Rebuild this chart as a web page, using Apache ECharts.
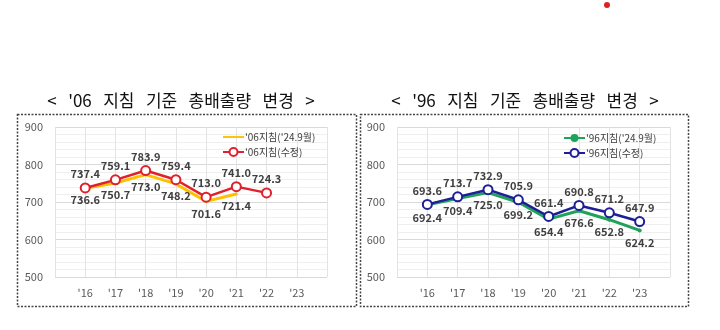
<!DOCTYPE html>
<html><head><meta charset="utf-8">
<script src="https://cdn.jsdelivr.net/npm/echarts@6/dist/echarts.min.js"></script>
<style>html,body{margin:0;padding:0;background:#fff}#c{width:720px;height:330px}</style>
</head><body><div id="c"></div>
<script>
const categories = ['', "'16", "'17", "'18", "'19", "'20", "'21", "'22", "'23", ''];
const yTicks = [500, 900, 100];
const titleLeft = "<   '06   지침   기준   총배출량   변경   >";
const titleRight = "<   '96   지침   기준   총배출량   변경   >";
const nameA1 = "'06지침('24.9월)";
const nameA2 = "'06지침(수정)";
const nameB1 = "'96지침('24.9월)";
const nameB2 = "'96지침(수정)";
const a1 = [null, 736.6, 750.7, 773.0, 748.2, 701.6, 721.4, null, null, null];
const a2 = [null, 737.4, 759.1, 783.9, 759.4, 713.0, 741.0, 724.3, null, null];
const b1 = [null, 692.4, 709.4, 725.0, 699.2, 654.4, 676.6, 652.8, 624.2, null];
const b2 = [null, 693.6, 713.7, 732.9, 705.9, 661.4, 690.8, 671.2, 647.9, null];

const FONT = '"Noto Sans CJK KR", "Noto Sans", sans-serif';
const chart = echarts.init(document.getElementById('c'));

function xAx(g){return {type:'category', gridIndex:g, data:categories, boundaryGap:false,
  axisLine:{show:false}, axisTick:{show:false},
  axisLabel:{color:'#595959', fontSize:11, fontFamily:FONT, margin:10},
  splitLine:{show:true, lineStyle:{color:'#e3e3e3', width:1}}};}
function yAx(g){return {type:'value', gridIndex:g, min:yTicks[0], max:yTicks[1], interval:yTicks[2],
  axisLine:{show:false}, axisTick:{show:false},
  axisLabel:{color:'#595959', fontSize:11, fontFamily:FONT, margin:12},
  splitLine:{lineStyle:{color:'#d9d9d9', width:1}},
  minorTick:{show:false, splitNumber:5},
  minorSplitLine:{show:true, lineStyle:{color:'#efefef', width:1}}};}
const lbl = (pos, d)=>({show:true, position:pos, distance:d, color:'#404040', fontSize:11, fontWeight:'bold', fontFamily:FONT,
  formatter:p=>p.value==null?'':Number(p.value).toFixed(1)});
const legText = {color:'#404040', fontSize:10, fontFamily:FONT, padding:[0,0,0,-4]};

chart.setOption({
  animation:false,
  textStyle:{fontFamily:FONT},
  graphic:[
    {type:'rect', shape:{x:17.5, y:114.5, width:339, height:192}, style:{fill:'none', stroke:'#444', lineWidth:1.5, lineDash:[2,1.5]}},
    {type:'rect', shape:{x:360.5, y:114.5, width:328, height:192}, style:{fill:'none', stroke:'#444', lineWidth:1.5, lineDash:[2,1.5]}},
    {type:'text', x:181, y:101, style:{text:titleLeft, fill:'#111', font:'17px '+FONT, align:'center', verticalAlign:'middle'}},
    {type:'text', x:525, y:101, style:{text:titleRight, fill:'#111', font:'17px '+FONT, align:'center', verticalAlign:'middle'}},
    {type:'circle', shape:{cx:607, cy:5, r:3}, style:{fill:'#e02020'}}
  ],
  grid:[
    {left:55, right:720-327, top:127, bottom:330-277},
    {left:397, right:720-670, top:127, bottom:330-277}
  ],
  xAxis:[xAx(0), xAx(1)],
  yAxis:[yAx(0), yAx(1)],
  legend:[
    {left:217, top:127, orient:'vertical', itemGap:5, itemWidth:21, itemHeight:10,
     data:[{name:nameA1, icon:'path://M0,4L22,4L22,6L0,6Z'}, {name:nameA2}],
     textStyle:legText},
    {left:558, top:128, orient:'vertical', itemGap:5, itemWidth:21, itemHeight:10,
     data:[{name:nameB1}, {name:nameB2}],
     textStyle:legText}
  ],
  series:[
    {name:nameA1, type:'line', xAxisIndex:0, yAxisIndex:0, data:a1, connectNulls:false,
     color:'#FFC000', lineStyle:{width:3, color:'#FFC000'}, symbol:'circle', symbolSize:3,
     itemStyle:{color:'#FFC000'}, label:lbl('bottom', 5), z:2},
    {name:nameA2, type:'line', xAxisIndex:0, yAxisIndex:0, data:a2,
     color:'#E0202A', lineStyle:{width:2.5, color:'#E0202A'}, symbol:'circle', symbolSize:9,
     itemStyle:{color:'#fff', borderColor:'#E0202A', borderWidth:2}, label:lbl('top', 3), z:3},
    {name:nameB1, type:'line', xAxisIndex:1, yAxisIndex:1, data:b1,
     color:'#1FA35A', lineStyle:{width:3, color:'#1FA35A'}, symbol:'circle', symbolSize:4,
     itemStyle:{color:'#1FA35A'}, label:lbl('bottom', 5), z:2},
    {name:nameB2, type:'line', xAxisIndex:1, yAxisIndex:1, data:b2,
     color:'#1E1E96', lineStyle:{width:2.5, color:'#1E1E96'}, symbol:'circle', symbolSize:9,
     itemStyle:{color:'#fff', borderColor:'#1E1E96', borderWidth:2}, label:lbl('top', 3), z:3}
  ]
});
</script></body></html>
